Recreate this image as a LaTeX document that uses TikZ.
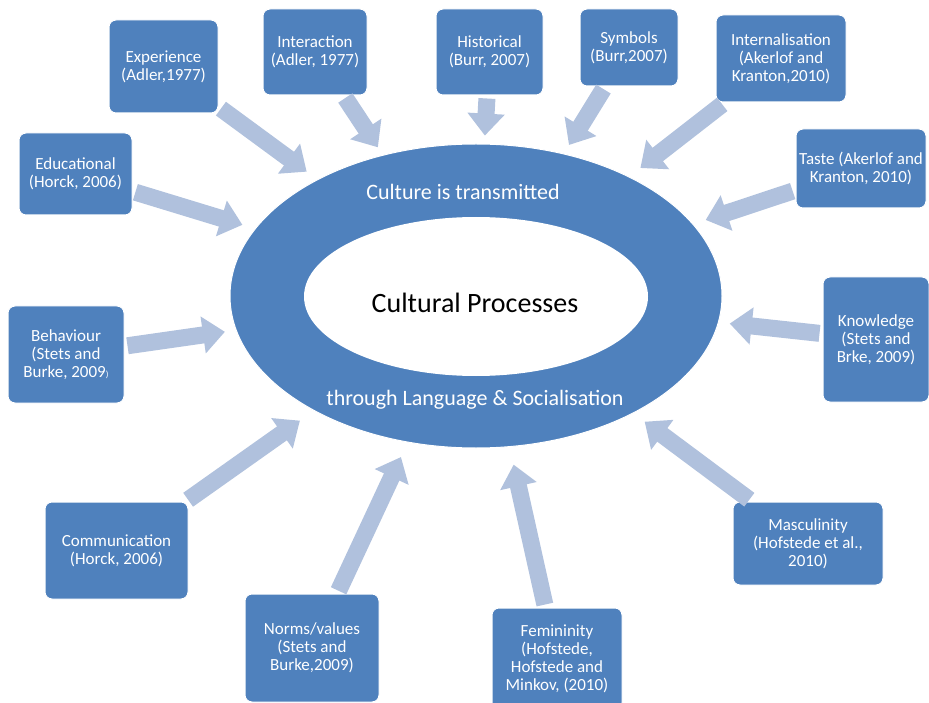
\documentclass[tikz,border=0pt]{standalone}
\usepackage{fontspec}
\setmainfont{Carlito}
\usetikzlibrary{arrows.meta,shapes.geometric}
\definecolor{boxblue}{HTML}{4F81BD}
\definecolor{feedblue}{HTML}{B0C1DD}
\tikzset{
  refbox/.style={rectangle, rounded corners=7pt, fill=boxblue, draw=white, line width=1pt,
    text=white, align=center, font=\fontsize{17}{18}\selectfont, inner sep=1pt},
  feed/.style={draw=feedblue, line width=17pt, -{Triangle[length=22pt,width=36pt]}, shorten <=3pt},
  ringtext/.style={text=white, font=\fontsize{22}{24}\selectfont}
}

\begin{document}
\begin{tikzpicture}[x=1pt,y=-1pt]
			%%%%% START %%%%%
			\clip (0,0) rectangle (929,703);
			
			\node[ellipse, fill=boxblue, draw=white, line width=1pt, minimum width=492pt, minimum height=304pt] (ring) at (476,296) {};
			\node[ellipse, fill=white, minimum width=344pt, minimum height=159pt] (core) at (476,296.5) {};
			\node[font=\fontsize{28}{30}\selectfont] (proc) at (475,303) {Cultural Processes};
			\node[ringtext] (top) at (463,192) {Culture is transmitted};
			\node[ringtext] (bot) at (475,400) {through Language \& Socialisation};
			
			\node[refbox, minimum width=109pt, minimum height=93pt] (exper) at (163.5,66.5) {Experience\\(Adler,1977)};
			\node[refbox, minimum width=104pt, minimum height=86pt] (inter) at (315,52) {Interaction\\(Adler, 1977)};
			\node[refbox, minimum width=113pt, minimum height=82pt] (educ) at (75.5,174) {Educational\\(Horck, 2006)};
			\node[refbox, minimum width=107pt, minimum height=86pt] (hist) at (489.5,52) {Historical\\(Burr, 2007)};
			\node[refbox, minimum width=98pt, minimum height=77pt] (symb) at (629,47.5) {Symbols\\(Burr,2007)};
			\node[refbox, minimum width=130pt, minimum height=87pt] (intern) at (781,58.5) {Internalisation\\(Akerlof and\\Kranton,2010)};
			\node[refbox, minimum width=130pt, minimum height=79pt] (taste) at (861,168.5) {Taste (Akerlof and\\Kranton, 2010)};
			\node[refbox, minimum width=116pt, minimum height=97pt] (behav) at (66,354.5) {Behaviour\\(Stets and\\Burke, 2009{\fontsize{9}{9}\selectfont)}};
			\node[refbox, minimum width=106pt, minimum height=125pt] (know) at (876,339.5) {Knowledge\\(Stets and\\Brke, 2009)};
			\node[refbox, minimum width=143pt, minimum height=97pt] (comm) at (116.5,550.5) {Communication\\(Horck, 2006)};
			\node[refbox, minimum width=134pt, minimum height=108pt] (norms) at (312,648) {Norms/values\\(Stets and\\Burke,2009)};
			\node[refbox, minimum width=130pt, minimum height=102pt] (femin) at (557,659) {Femininity\\(Hofstede,\\Hofstede and\\Minkov, (2010)};
			\node[refbox, minimum width=150pt, minimum height=83pt] (masc) at (808,543.5) {Masculinity\\(Hofstede et al.,\\2010)};
			
			\draw[feed, shorten >=13pt] (exper) -- (ring);
			\draw[feed, shorten >=9pt] (inter) -- (ring);
			\draw[feed, shorten >=13pt] (educ) -- (ring);
			\draw[feed, shorten >=8pt] (hist) -- (ring);
			\draw[feed, shorten >=10pt] (symb) -- (ring);
			\draw[feed, shorten >=14pt] (intern) -- (ring);
			\draw[feed, shorten >=13pt] (taste) -- (ring);
			\draw[feed, shorten >=11pt] (behav) -- (ring);
			\draw[feed, shorten >=11pt] (know) -- (ring);
			\draw[feed, shorten >=17pt] (comm) -- (ring);
			\draw[feed, shorten >=16pt] (norms) -- (ring);
			\draw[feed, shorten >=18pt] (femin) -- (ring);
			\draw[feed, shorten >=14pt] (masc) -- (ring);
			
			%%%%% END %%%%%
		\end{tikzpicture}
\end{document}
